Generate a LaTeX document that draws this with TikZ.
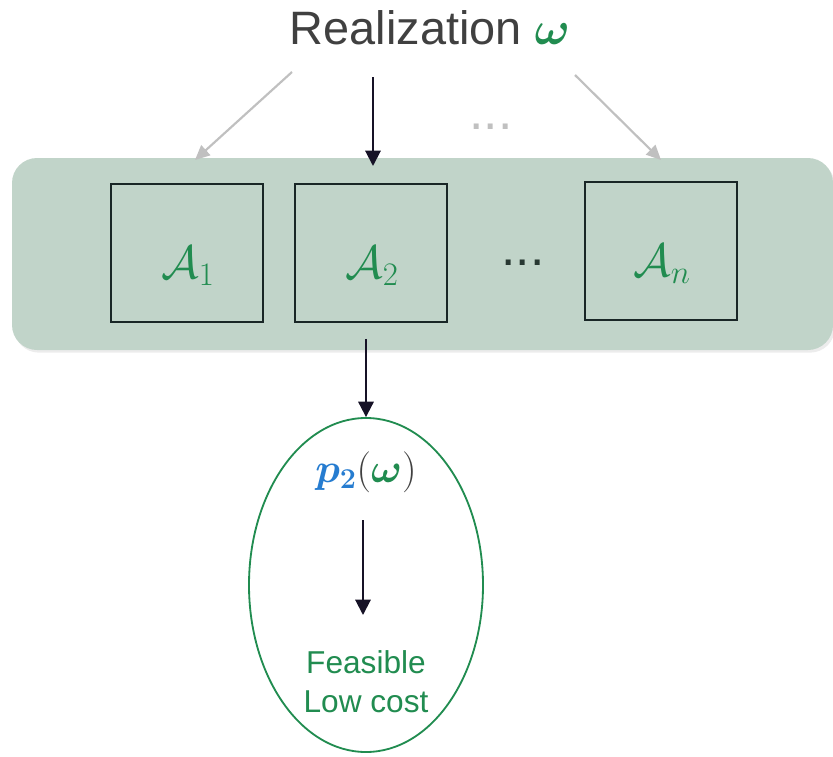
\RequirePackage{fix-cm}
\documentclass[tikz,border=0pt]{standalone}
\usepackage{amsmath,bm}
\usepackage{fontspec}
\setmainfont{Liberation Sans}
\usetikzlibrary{arrows.meta,shapes.geometric,positioning,shadows}

\definecolor{realgreen}{RGB}{33,140,80}
\definecolor{bandgreen}{RGB}{193,212,201}
\definecolor{pblue}{RGB}{38,124,208}
\definecolor{titlegray}{RGB}{64,64,64}
\definecolor{arrowgray}{RGB}{192,192,192}
\definecolor{arrowblack}{RGB}{22,18,38}
\definecolor{boxline}{RGB}{25,38,38}
\definecolor{dotdark}{RGB}{40,56,50}

\begin{document}
\begin{tikzpicture}[x=0.03cm, y=-0.03cm,
    abox/.style={draw=boxline, line width=0.45mm, minimum width=4.56cm, minimum height=4.14cm, inner sep=0pt},
    alabel/.style={text=realgreen, font=\fontsize{40}{48}\selectfont},
    blackarrow/.style={-{Triangle[width=4.6mm,length=4.6mm]}, line width=0.6mm, draw=arrowblack},
    grayarrow/.style={-{Triangle[width=4mm,length=4.4mm]}, line width=0.65mm, draw=arrowgray}]

    % --- 1. RAHMEN ---
    \useasboundingbox (0,0) rectangle (833,757);

    % --- 2. UEBERSCHRIFT ---
    \node[text=titlegray, font=\fontsize{40}{48}\selectfont] (title) at (430,28)
        {Realization \textcolor{realgreen}{$\boldsymbol{\omega}$}};

    % --- 3. BAND MIT DEN AGENTEN ---
    \fill[bandgreen, rounded corners=7.5mm,
          drop shadow={opacity=0.15, shadow xshift=0.6mm, shadow yshift=-0.8mm}]
        (12,158) rectangle (833,350);

    \node[abox] (a1) at (187,253) {};
    \node[abox] (a2) at (371,253) {};
    \node[abox] (an) at (661,251) {};

    \node[alabel] (a1t) at (188,266) {$\mathcal{A}_1$};
    \node[alabel] (a2t) at (372,266) {$\mathcal{A}_2$};
    \node[alabel] (ant) at (662,264) {$\mathcal{A}_n$};

    \node[text=dotdark, font=\fontsize{44}{52}\selectfont] (dots) at (523,263) {...};
    \node[text=arrowgray, font=\fontsize{44}{52}\selectfont] (gdots) at (491,127) {...};

    % --- 4. PFEILE VON OBEN ---
    \coordinate (g1s) at (292,72);
    \coordinate (g1e) at (195,160);
    \coordinate (g2s) at (373,77);
    \coordinate (g2e) at (373,166);
    \coordinate (gns) at (575,75);
    \coordinate (gne) at (661,160);

    \draw[grayarrow] (g1s) -- (g1e);
    \draw[grayarrow] (gns) -- (gne);
    \draw[blackarrow] (g2s) -- (g2e);

    % --- 5. ERGEBNIS-ELLIPSE ---
    \node[ellipse, draw=realgreen, line width=0.55mm, minimum width=7.02cm, minimum height=10.02cm, inner sep=0pt]
        (p) at (366,585) {};

    \draw[blackarrow, shorten <=4.8mm] (a2.south -| p.north) -- (p.north);

    \node[font=\fontsize{35}{42}\selectfont] (ptext) at (366,472)
        {$\textcolor{pblue}{\boldsymbol{p}_{\boldsymbol{2}}}\textcolor{titlegray}{(}\textcolor{realgreen}{\boldsymbol{\omega}}\textcolor{titlegray}{)}$};

    \node[text=realgreen, align=center, font=\fontsize{27}{33}\selectfont] (feas) at (366,682)
        {Feasible\\Low cost};

    \coordinate (inS) at (363,520);
    \coordinate (inE) at (363,615);
    \draw[blackarrow] (inS) -- (inE);

\end{tikzpicture}
\end{document}
